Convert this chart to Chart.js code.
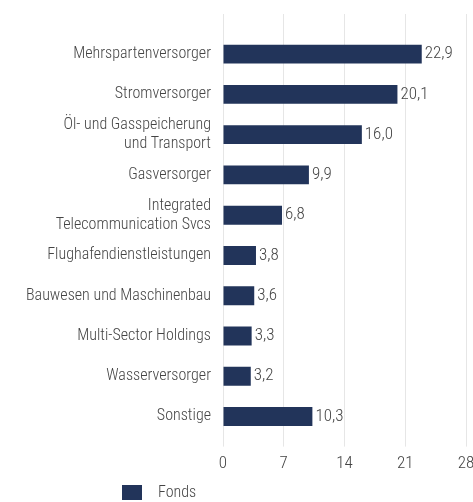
<!DOCTYPE html>
<html>
<head>
<meta charset="utf-8">
<script src="https://cdn.jsdelivr.net/npm/chart.js@4.4.1/dist/chart.umd.min.js"></script>
<style>
  html, body { margin: 0; padding: 0; background: #fff; }
  #wrap { width: 473px; height: 502px; }
</style>
</head>
<body>
<div id="wrap"><canvas id="myChart"></canvas></div>
<script>
var categories = [
    "Mehrspartenversorger",
    "Stromversorger",
    ["Öl- und Gasspeicherung", "und Transport"],
    "Gasversorger",
    ["Integrated", "Telecommunication Svcs"],
    "Flughafendienstleistungen",
    "Bauwesen und Maschinenbau",
    "Multi-Sector Holdings",
    "Wasserversorger",
    "Sonstige"
];
var fondsValues = [22.9, 20.1, 16.0, 9.9, 6.8, 3.8, 3.6, 3.3, 3.2, 10.3];
var xTicks = [0, 7, 14, 21, 28];

var fontFamily = "'Roboto Condensed', 'Liberation Sans Narrow', 'DejaVu Sans Condensed', sans-serif";
var barColor = '#22345a';
var textColor = '#444444';
var gridColor = '#e6e6e6';

// value labels right of each bar
var valueLabels = {
    id: 'valueLabels',
    afterDatasetsDraw: function (chart) {
        var ctx = chart.ctx;
        var meta = chart.getDatasetMeta(0);
        ctx.save();
        ctx.font = '300 17px ' + fontFamily;
        ctx.fillStyle = textColor;
        ctx.textAlign = 'left';
        ctx.textBaseline = 'middle';
        meta.data.forEach(function (bar, i) {
            var txt = fondsValues[i].toFixed(1).replace('.', ',');
            ctx.fillText(txt, bar.x + 3, bar.y);
        });
        ctx.restore();
    }
};

// legend drawn bottom left
var fondsLegend = {
    id: 'fondsLegend',
    afterDraw: function (chart) {
        var ctx = chart.ctx;
        var ds = chart.data.datasets[0];
        ctx.save();
        ctx.fillStyle = ds.backgroundColor;
        ctx.fillRect(122, 485, 20, 15);
        ctx.font = '300 16px ' + fontFamily;
        ctx.fillStyle = textColor;
        ctx.textBaseline = 'middle';
        ctx.fillText(ds.label, 158, 493);
        ctx.restore();
    }
};

function fixRight(scale) {
    scale.paddingRight = 7;
}

var ctx = document.getElementById('myChart').getContext('2d');
var myChart = new Chart(ctx, {
    type: 'bar',
    data: {
        labels: categories,
        datasets: [{
            label: 'Fonds',
            data: fondsValues,
            backgroundColor: barColor,
            categoryPercentage: 1,
            barPercentage: 0.47
        }]
    },
    options: {
        indexAxis: 'y',
        responsive: true,
        maintainAspectRatio: false,
        animation: false,
        layout: { padding: { top: 14, right: 0, bottom: 21, left: 0 } },
        plugins: {
            legend: { display: false },
            tooltip: { enabled: false }
        },
        scales: {
            x: {
                min: 0,
                max: 28,
                afterBuildTicks: function (scale) {
                    scale.ticks = xTicks.map(function (v) { return { value: v }; });
                },
                afterFit: fixRight,
                grid: { color: gridColor, tickLength: 10, drawTicks: true },
                border: { display: false },
                ticks: {
                    padding: 7,
                    color: textColor,
                    font: { family: fontFamily, size: 17, weight: '300' }
                }
            },
            x2: {
                position: 'top',
                min: 0,
                max: 28,
                afterBuildTicks: function (scale) {
                    scale.ticks = xTicks.map(function (v) { return { value: v }; });
                },
                afterFit: fixRight,
                grid: { color: gridColor, drawOnChartArea: false, tickLength: 20 },
                border: { display: false },
                ticks: { display: false }
            },
            y: {
                afterFit: function (scale) { scale.width = 223; },
                grid: { display: false, drawTicks: false },
                border: { display: false },
                ticks: {
                    autoSkip: false,
                    padding: 12,
                    color: textColor,
                    font: { family: fontFamily, size: 16, weight: '300', lineHeight: 1.2 }
                }
            }
        }
    },
    plugins: [valueLabels, fondsLegend]
});
</script>
</body>
</html>
